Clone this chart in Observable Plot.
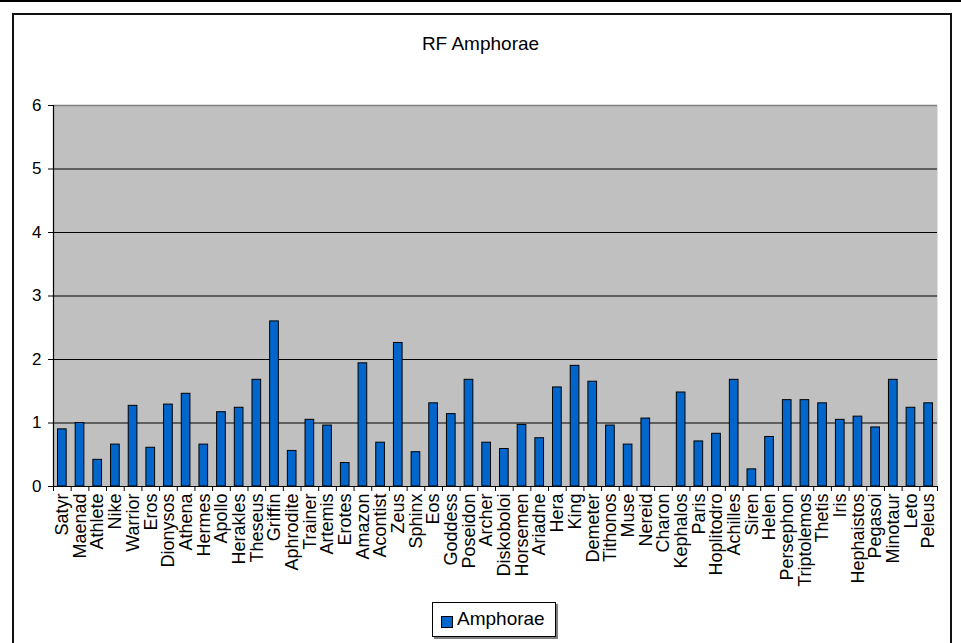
<!DOCTYPE html>
<html><head><meta charset="utf-8">
<script src="https://cdn.jsdelivr.net/npm/d3@7"></script>
<script src="https://cdn.jsdelivr.net/npm/@observablehq/plot@0.6"></script>
<style>
body{margin:0;background:#fff;font-family:"Liberation Sans",Arial,sans-serif;}
#page{position:relative;width:961px;height:643px;overflow:hidden;background:#fff;}
#topline{position:absolute;left:0;top:0;width:961px;height:2px;background:#000;}
#frame{position:absolute;left:12px;top:13px;width:940px;height:640px;border:2px solid #111;border-bottom:none;box-sizing:border-box;}
#title{position:absolute;top:33px;left:0;width:961px;text-align:center;font-size:19px;color:#000;}
#chart{position:absolute;left:0;top:0;}
#legend{position:absolute;left:432px;top:602px;width:124px;height:35px;border:1px solid #000;box-sizing:border-box;background:#fff;box-shadow:2px 2px 0 #808080;}
#legend .sw{position:absolute;left:8px;top:13px;width:10px;height:10px;background:#0066cc;border:1px solid #000;}
#legend .lb{position:absolute;left:24px;top:5px;font-size:19px;color:#000;}
</style></head>
<body><div id="page">
<div id="topline"></div>
<div id="frame"></div>
<div id="chart"></div>
<div id="title">RF Amphorae</div>
<div id="legend"><div class="sw"></div><div class="lb">Amphorae</div></div>
</div>
<script>
const categories = ["Satyr","Maenad","Athlete","Nike","Warrior","Eros","Dionysos","Athena","Hermes","Apollo","Herakles","Theseus","Griffin","Aphrodite","Trainer","Artemis","Erotes","Amazon","Acontist","Zeus","Sphinx","Eos","Goddess","Poseidon","Archer","Diskoboloi","Horsemen","Ariadne","Hera","King","Demeter","Tithonos","Muse","Nereid","Charon","Kephalos","Paris","Hoplitodro","Achilles","Siren","Helen","Persephon","Triptolemos","Thetis","Iris","Hephaistos","Pegasoi","Minotaur","Leto","Peleus"];
const values = [0.90,1.00,0.42,0.66,1.27,0.61,1.29,1.46,0.66,1.17,1.24,1.68,2.60,0.56,1.05,0.96,0.37,1.94,0.69,2.26,0.54,1.31,1.14,1.68,0.69,0.59,0.97,0.76,1.56,1.90,1.65,0.96,0.66,1.07,0,1.48,0.71,0.83,1.68,0.27,0.78,1.36,1.36,1.31,1.05,1.10,0.93,1.68,1.24,1.31];
const yTicks = [0,1,2,3,4,5,6];
const gridLines = [1,2,3,4,5];

const n = categories.length;
const data = categories.map((name, i) => ({i, name, value: values[i]}));
const font = "'Liberation Sans', Arial, sans-serif";

const chart = Plot.plot({
  width: 961, height: 600,
  marginLeft: 53, marginRight: 24, marginTop: 105, marginBottom: 114,
  x: {type: "linear", domain: [0, n], label: null},
  y: {domain: [0, 6], label: null},
  style: {fontFamily: font, fontSize: "17px", color: "#000", background: "transparent", overflow: "visible"},
  marks: [
    Plot.frame({fill: "#c0c0c0"}),
    Plot.ruleY(gridLines, {stroke: "#000", strokeWidth: 1}),
    Plot.ruleY([6], {stroke: "#808080", strokeWidth: 1.5}),
    Plot.rectY(data, {x1: "i", x2: d => d.i + 1, y: "value", insetLeft: 4.5, insetRight: 4.5, fill: "#0066cc", stroke: "#000", strokeWidth: 1}),
    Plot.ruleY([0], {stroke: "#000", strokeWidth: 1.2}),
    Plot.ruleX([0], {stroke: "#000", strokeWidth: 1.2}),
    Plot.axisY({ticks: yTicks, tickSize: 5, tickPadding: 7, fontSize: 17, label: null, tickFormat: d => String(d)}),
    Plot.axisX({ticks: d3.range(n + 1), tickSize: 5, tickFormat: () => "", label: null}),
    Plot.axisX({ticks: d3.range(n).map(i => i + 0.5), tickSize: 0, tickPadding: 7, tickRotate: -90, fontSize: 18,
      tickFormat: d => categories[Math.floor(d)], label: null})
  ]
});
document.getElementById("chart").appendChild(chart);
</script>
</body></html>
